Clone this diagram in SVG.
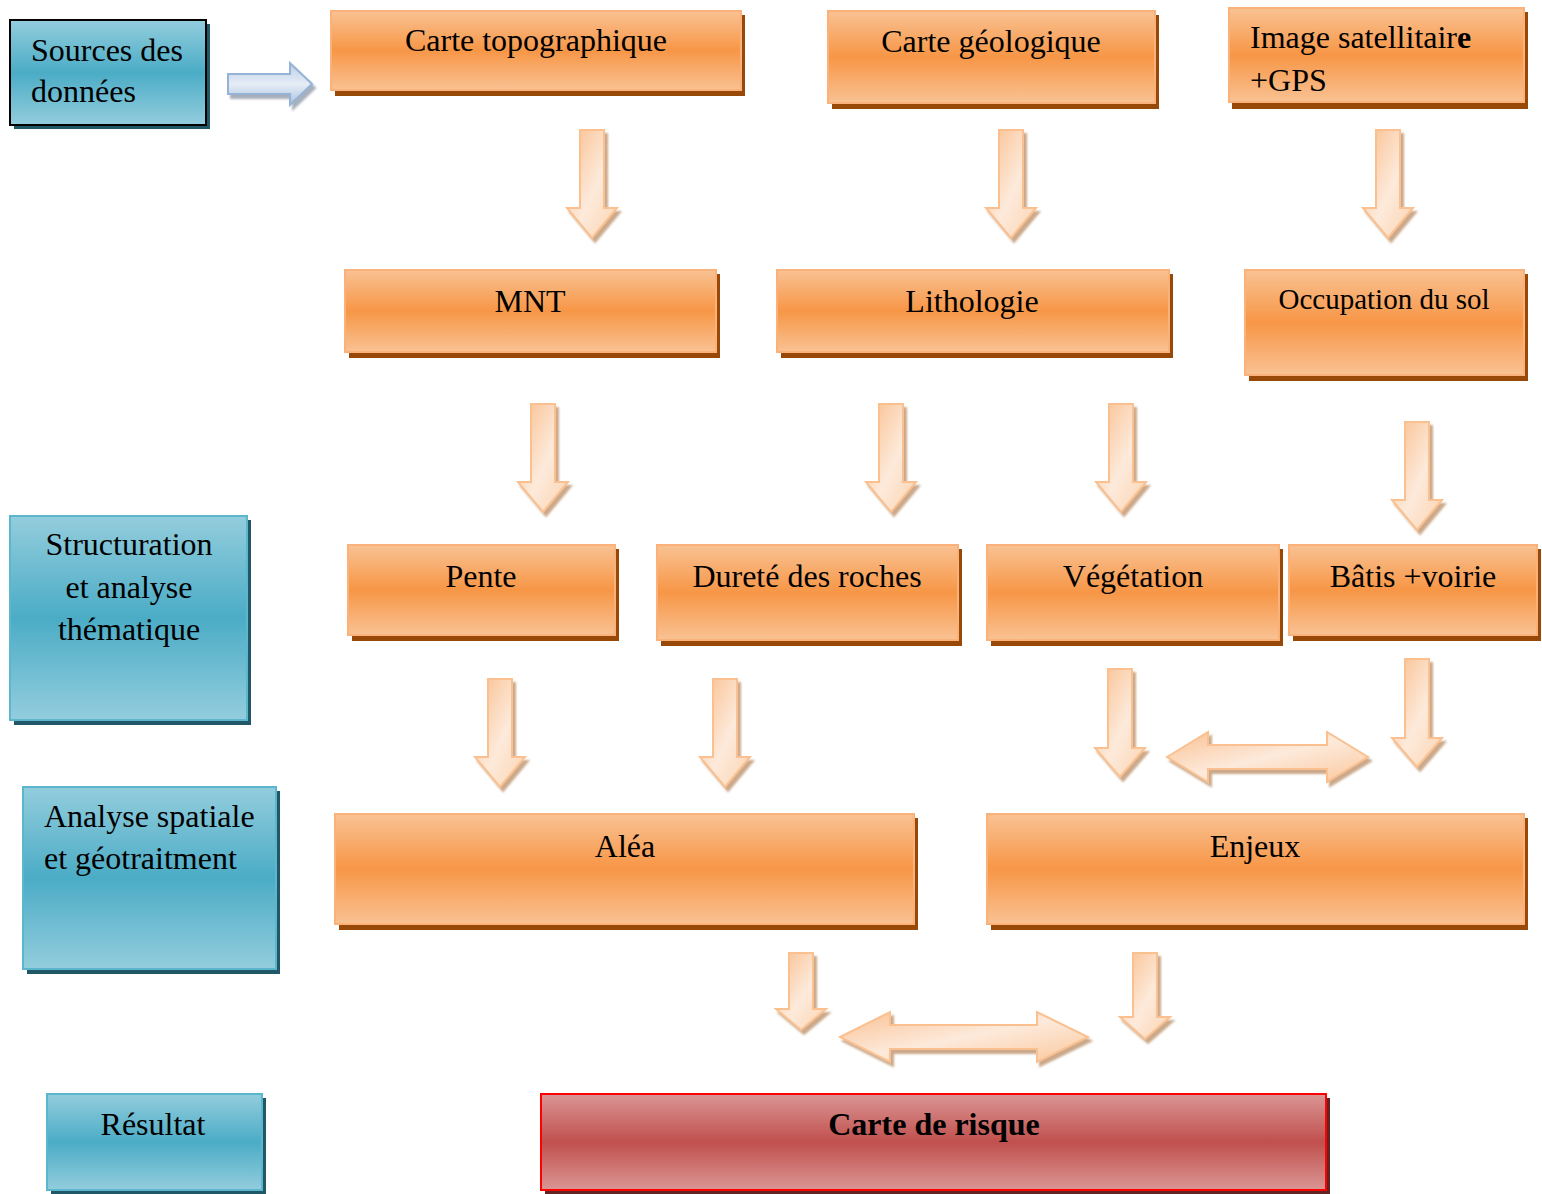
<svg xmlns="http://www.w3.org/2000/svg" width="1542" height="1194" viewBox="0 0 1542 1194">
<defs>
<linearGradient id="gOr" x1="0" y1="0" x2="0" y2="1">
<stop offset="0" stop-color="#F9C293"/><stop offset="0.5" stop-color="#F79646"/><stop offset="1" stop-color="#F9C293"/>
</linearGradient>
<linearGradient id="gTe" x1="0" y1="0" x2="0" y2="1">
<stop offset="0" stop-color="#93CDDD"/><stop offset="0.5" stop-color="#4BACC6"/><stop offset="1" stop-color="#93CDDD"/>
</linearGradient>
<linearGradient id="gRe" x1="0" y1="0" x2="0" y2="1">
<stop offset="0" stop-color="#DA9695"/><stop offset="0.5" stop-color="#C0504D"/><stop offset="1" stop-color="#DA9695"/>
</linearGradient>
<linearGradient id="gAr" x1="0" y1="0" x2="1" y2="1">
<stop offset="0" stop-color="#F9BD8A"/><stop offset="0.55" stop-color="#FDEADB"/><stop offset="1" stop-color="#FBD3AF"/>
</linearGradient>
<linearGradient id="gAh" x1="0" y1="0" x2="1" y2="1">
<stop offset="0" stop-color="#FAC193"/><stop offset="0.5" stop-color="#FDEADB"/><stop offset="1" stop-color="#FAC79C"/>
</linearGradient>
<linearGradient id="gBl" x1="0" y1="0" x2="0" y2="1">
<stop offset="0" stop-color="#B9CDE5"/><stop offset="0.5" stop-color="#E6EDF6"/><stop offset="1" stop-color="#A9C1DE"/>
</linearGradient>
<filter id="sh" x="-20%" y="-20%" width="150%" height="150%">
<feDropShadow dx="3" dy="4" stdDeviation="0.8" flood-color="#B07A4E" flood-opacity="0.65"/>
</filter>
<filter id="shb" x="-20%" y="-20%" width="150%" height="150%">
<feDropShadow dx="3" dy="4" stdDeviation="0.8" flood-color="#6C7A8C" flood-opacity="0.6"/>
</filter>
<style>
text{font-family:"Liberation Serif","Times New Roman",serif;font-size:32px;fill:#000}
.c{text-anchor:middle}
.or{fill:url(#gOr);stroke:#FAB27A;stroke-width:2}
.ors{fill:#984807}
.te{fill:url(#gTe);stroke:#5BB6CE;stroke-width:2}
.tes{fill:#215868}
.ar{fill:url(#gAr);stroke:#FAC090;stroke-width:2;filter:url(#sh)}
.ah{fill:url(#gAh);stroke:#FAC090;stroke-width:2;filter:url(#sh)}
</style>
</defs>

<g id="sources">
<rect class="tes" x="14" y="24" width="196" height="105"/>
<rect x="10" y="20" width="196" height="105" fill="url(#gTe)" stroke="#000" stroke-width="2"/>
<text x="31" y="61">Sources des</text>
<text x="31" y="102">données</text>
</g>
<g id="structuration">
<rect class="tes" x="14" y="520" width="237" height="205"/>
<rect class="te" x="10" y="516" width="237" height="204"/>
<text class="c" x="129" y="555">Structuration</text>
<text class="c" x="129" y="598">et analyse</text>
<text class="c" x="129" y="640">thématique</text>
</g>
<g id="analyse">
<rect class="tes" x="27" y="791" width="253" height="183"/>
<rect class="te" x="23" y="787" width="253" height="182"/>
<text x="44" y="827">Analyse spatiale</text>
<text x="44" y="869">et géotraitment</text>
</g>
<g id="resultat">
<rect class="tes" x="51" y="1098" width="215" height="96"/>
<rect class="te" x="47" y="1094" width="215" height="96"/>
<text class="c" x="153" y="1135">Résultat</text>
</g>

<g id="carte-topo">
<rect class="ors" x="335" y="15" width="410" height="81"/>
<rect class="or" x="331" y="11" width="410" height="79"/>
<text class="c" x="536" y="51">Carte topographique</text>
</g>
<g id="carte-geo">
<rect class="ors" x="832" y="15" width="327" height="94"/>
<rect class="or" x="828" y="11" width="327" height="92"/>
<text class="c" x="991" y="52">Carte géologique</text>
</g>
<g id="image-sat">
<rect class="ors" x="1232" y="12" width="296" height="97"/>
<rect class="or" x="1229" y="8" width="295" height="94"/>
<text x="1250" y="48">Image satellitair<tspan font-weight="bold">e</tspan></text>
<text x="1250" y="91">+GPS</text>
</g>
<g id="mnt">
<rect class="ors" x="349" y="274" width="371" height="84"/>
<rect class="or" x="345" y="270" width="371" height="82"/>
<text class="c" x="530" y="312">MNT</text>
</g>
<g id="lithologie">
<rect class="ors" x="781" y="274" width="392" height="84"/>
<rect class="or" x="777" y="270" width="392" height="82"/>
<text class="c" x="972" y="312">Lithologie</text>
</g>
<g id="occupation">
<rect class="ors" x="1249" y="274" width="279" height="107"/>
<rect class="or" x="1245" y="270" width="279" height="105"/>
<text class="c" x="1384" y="309" style="font-size:29px">Occupation du sol</text>
</g>
<g id="pente">
<rect class="ors" x="352" y="549" width="267" height="92"/>
<rect class="or" x="348" y="545" width="267" height="90"/>
<text class="c" x="481" y="587">Pente</text>
</g>
<g id="durete">
<rect class="ors" x="661" y="549" width="301" height="97"/>
<rect class="or" x="657" y="545" width="301" height="95"/>
<text class="c" x="807" y="587">Dureté des roches</text>
</g>
<g id="vegetation">
<rect class="ors" x="991" y="549" width="292" height="97"/>
<rect class="or" x="987" y="545" width="292" height="95"/>
<text class="c" x="1133" y="587">Végétation</text>
</g>
<g id="batis">
<rect class="ors" x="1293" y="549" width="248" height="92"/>
<rect class="or" x="1289" y="545" width="248" height="90"/>
<text class="c" x="1413" y="587">Bâtis +voirie</text>
</g>
<g id="alea">
<rect class="ors" x="339" y="818" width="579" height="112"/>
<rect class="or" x="335" y="814" width="579" height="110"/>
<text class="c" x="625" y="857">Aléa</text>
</g>
<g id="enjeux">
<rect class="ors" x="991" y="818" width="537" height="112"/>
<rect class="or" x="987" y="814" width="537" height="110"/>
<text class="c" x="1255" y="857">Enjeux</text>
</g>
<g id="carte-risque">
<rect fill="#632523" x="545" y="1098" width="785" height="96"/>
<rect x="541" y="1094" width="785" height="96" fill="url(#gRe)" stroke="#FF0000" stroke-width="2"/>
<text class="c" x="934" y="1135" font-weight="bold">Carte de risque</text>
</g>

<g id="connectors">
<path d="M228,74 H290 V63 L312,84 L290,105 V94 H228 Z" fill="url(#gBl)" stroke="#95B3D7" stroke-width="2" filter="url(#shb)"/>
<path class="ar" d="M580,130 H604 V208 H617 L592,238 L567,208 H580 Z"/>
<path class="ar" d="M999,130 H1023 V208 H1036 L1011,238 L986,208 H999 Z"/>
<path class="ar" d="M1376,130 H1400 V208 H1413 L1388,238 L1363,208 H1376 Z"/>
<path class="ar" d="M531,404 H555 V482 H568 L543,512 L518,482 H531 Z"/>
<path class="ar" d="M879,404 H903 V482 H916 L891,512 L866,482 H879 Z"/>
<path class="ar" d="M1109,404 H1133 V482 H1146 L1121,512 L1096,482 H1109 Z"/>
<path class="ar" d="M1405,422 H1429 V500 H1442 L1417,530 L1392,500 H1405 Z"/>
<path class="ar" d="M488,679 H512 V757 H525 L500,787 L475,757 H488 Z"/>
<path class="ar" d="M713,679 H737 V757 H750 L725,787 L700,757 H713 Z"/>
<path class="ar" d="M1108,669 H1132 V748 H1145 L1120,777 L1095,748 H1108 Z"/>
<path class="ar" d="M1405,659 H1429 V738 H1442 L1417,767 L1392,738 H1405 Z"/>
<path class="ar" d="M789,953 H813 V1009 H826 L801,1030 L776,1009 H789 Z"/>
<path class="ar" d="M1133,953 H1157 V1017 H1170 L1145,1039 L1120,1017 H1133 Z"/>
<path class="ah" d="M1167,757 L1208,732 V745 H1327 V732 L1368,757 L1327,782 V769 H1208 V782 Z"/>
<path class="ah" d="M840,1037 L890,1012 V1025 H1037 V1012 L1088,1037 L1037,1062 V1049 H890 V1062 Z"/>
</g>
</svg>
